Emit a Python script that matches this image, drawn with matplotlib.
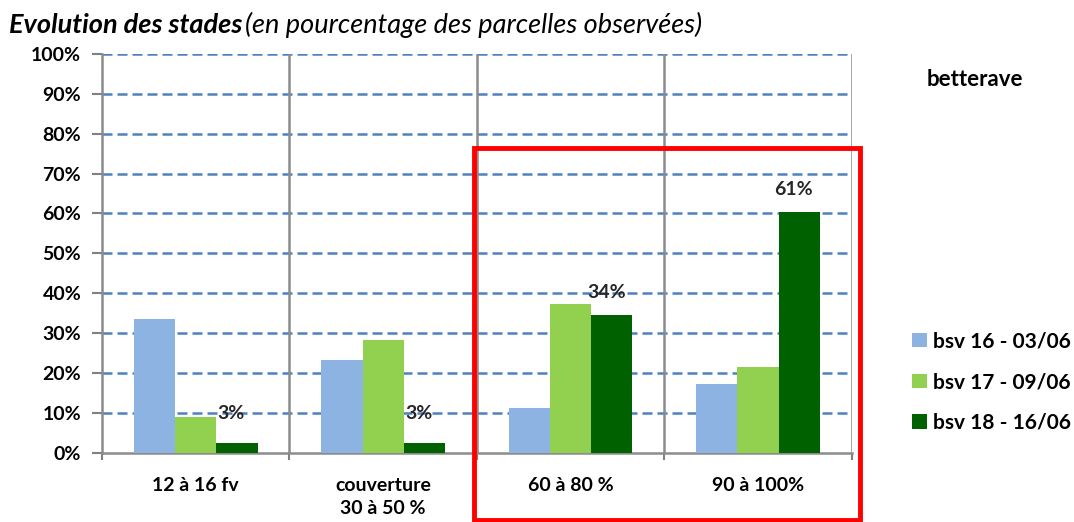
import numpy as np
import matplotlib
matplotlib.use("Agg")
import matplotlib.pyplot as plt
from matplotlib.patches import Rectangle

plt.rcParams['font.family'] = ['Lato', 'DejaVu Sans']

categories = ["12 à 16 fv", "couverture\n30 à 50 %", "60 à 80 %", "90 à 100%"]
series_names = ["bsv 16 - 03/06", "bsv 17 - 09/06", "bsv 18 - 16/06"]
bsv16 = [33.6, 23.4, 11.4, 17.2]
bsv17 = [9.0, 28.2, 37.3, 21.5]
bsv18 = [2.5, 2.5, 34.6, 60.5]
bsv18_labels = ["3%", "3%", "34%", "61%"]
colors = ["#8DB3E2", "#92D050", "#006100"]

fig = plt.figure(figsize=(10.74, 5.22), dpi=100)
ax = fig.add_axes([0.095, 0.132, 0.698, 0.765])

x = np.arange(len(categories))
w = 0.22
for i, (vals, c, name) in enumerate(zip([bsv16, bsv17, bsv18], colors, series_names)):
    ax.bar(x + (i - 1) * w, vals, w, color=c, label=name, zorder=3)

# labels on the last series (small bars get a bit more room)
for xi, v, lab in zip(x, bsv18, bsv18_labels):
    dy = 15 if v < 5 else 10
    ax.annotate(lab, (xi + w, v), xytext=(-4, dy), textcoords="offset points",
                ha="center", va="bottom", fontsize=14, fontweight="bold", color="#262626")

ax.set_xlim(-0.5, 3.5)
ax.set_ylim(0, 100)
ax.set_yticks(np.arange(0, 101, 10))
ax.set_yticklabels([f"{v}%" for v in range(0, 101, 10)], fontsize=14, fontweight="bold")
ax.set_xticks(x)
ax.set_xticklabels(categories, fontsize=14, fontweight="bold", linespacing=1.45, va="top")
ax.tick_params(axis="x", length=0, pad=17)
ax.set_xticks([-0.5, 0.5, 1.5, 2.5, 3.5], minor=True)
ax.tick_params(axis="x", which="minor", length=5, color="#808080", width=1.5)
ax.tick_params(axis="y", length=7, color="#808080", width=1.5, pad=8)

for yv in range(10, 101, 10):
    ax.axhline(yv, color="#4F81BD", ls=(0, (4, 2)), lw=1.8, zorder=1)
for xv in [0.5, 1.5, 2.5, 3.5]:
    ax.axvline(xv, color="#8C8C8C", lw=1.8, zorder=2)

for s in ["top", "right"]:
    ax.spines[s].set_visible(False)
for s in ["left", "bottom"]:
    ax.spines[s].set_color("#8C8C8C")
    ax.spines[s].set_linewidth(1.8)

t1 = fig.text(0.008, 0.953, "Evolution des stades", fontsize=19.5, fontweight="bold",
              style="italic", va="center", ha="left")
fig.canvas.draw()
bb = t1.get_window_extent()
fig.text((bb.x1 + 3) / fig.bbox.width, 0.953, "(en pourcentage des parcelles observées)",
         fontsize=19.5, style="italic", va="center", ha="left")
fig.text(0.908, 0.847, "betterave", fontsize=16, fontweight="bold", ha="center", va="center")

leg = fig.legend(loc="center left", bbox_to_anchor=(0.832, 0.268), frameon=False,
                 prop={"size": 15, "weight": "bold"}, handlelength=0.7, handleheight=0.7,
                 handletextpad=0.3, labelspacing=1.0)

# red highlight box
fig.patches.append(Rectangle((474 / 1074, 1 - 520 / 522), (860 - 474) / 1074, (520 - 148) / 522,
                             transform=fig.transFigure, fill=False, edgecolor="red", lw=3.5))

fig.savefig("out.png", dpi=100)
